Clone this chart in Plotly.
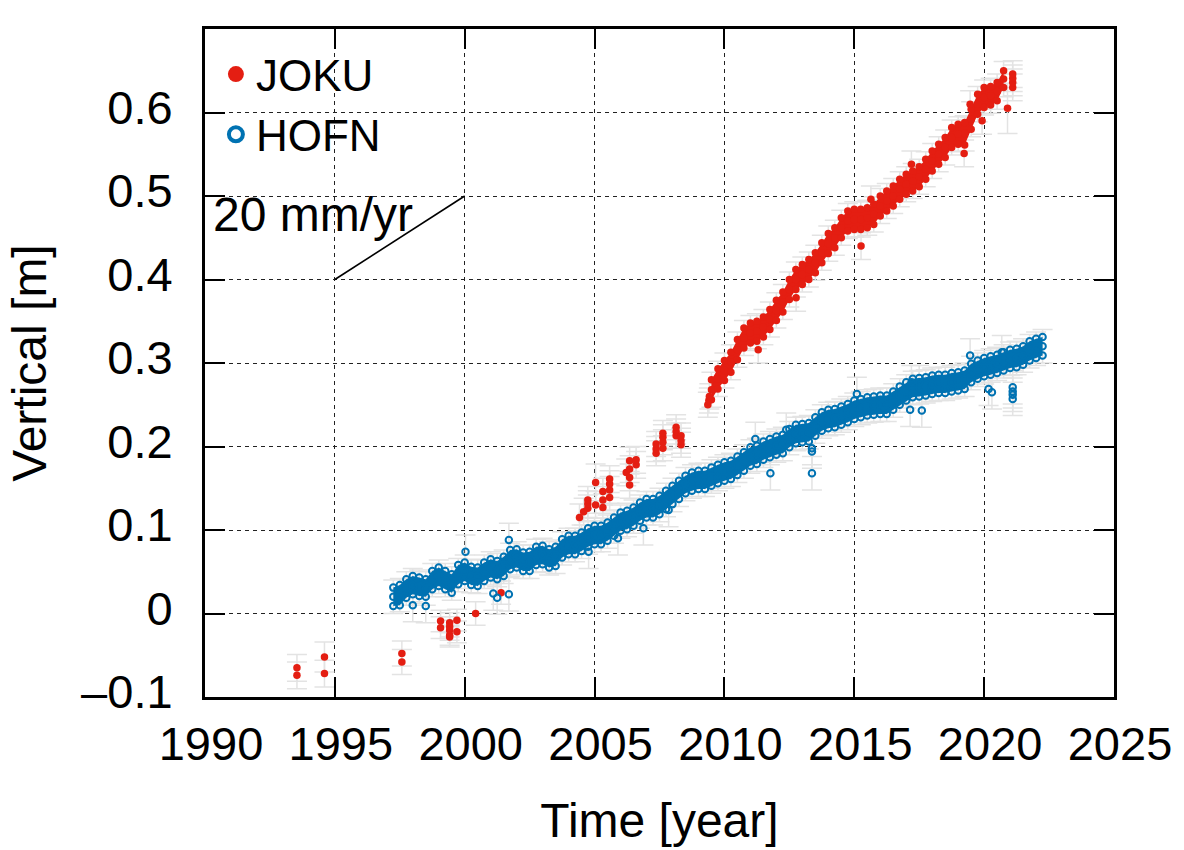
import plotly.graph_objects as go

# ---------------- data ----------------
# HOFN continuous GNSS: quarterly samples, three observation rows (upper, middle, lower part of band)
hofn_t = [1997.25, 1997.5, 1997.75,
          1998.0, 1998.25, 1998.5, 1998.75, 1999.0, 1999.25, 1999.5, 1999.75,
          2000.0, 2000.25, 2000.5, 2000.75, 2001.0, 2001.25, 2001.5, 2001.75,
          2002.0, 2002.25, 2002.5, 2002.75, 2003.0, 2003.25, 2003.5, 2003.75,
          2004.0, 2004.25, 2004.5, 2004.75, 2005.0, 2005.25, 2005.5, 2005.75,
          2006.0, 2006.25, 2006.5, 2006.75, 2007.0, 2007.25, 2007.5, 2007.75,
          2008.0, 2008.25, 2008.5, 2008.75, 2009.0, 2009.25, 2009.5, 2009.75,
          2010.0, 2010.25, 2010.5, 2010.75, 2011.0, 2011.25, 2011.5, 2011.75,
          2012.0, 2012.25, 2012.5, 2012.75, 2013.0, 2013.25, 2013.5, 2013.75,
          2014.0, 2014.25, 2014.5, 2014.75, 2015.0, 2015.25, 2015.5, 2015.75,
          2016.0, 2016.25, 2016.5, 2016.75, 2017.0, 2017.25, 2017.5, 2017.75,
          2018.0, 2018.25, 2018.5, 2018.75, 2019.0, 2019.25, 2019.5, 2019.75,
          2020.0, 2020.25, 2020.5, 2020.75, 2021.0, 2021.25, 2021.5, 2021.75,
          2022.0, 2022.25]
hofn_top = [0.031, 0.034, 0.041,
            0.045, 0.043, 0.041, 0.051, 0.055, 0.051, 0.047, 0.058,
            0.061, 0.056, 0.055, 0.061, 0.065, 0.063, 0.068, 0.076,
            0.077, 0.073, 0.074, 0.080, 0.081, 0.077, 0.080, 0.089,
            0.093, 0.093, 0.097, 0.102, 0.105, 0.105, 0.109, 0.115,
            0.121, 0.123, 0.127, 0.133, 0.137, 0.137, 0.141, 0.147,
            0.153, 0.159, 0.165, 0.169, 0.171, 0.171, 0.175, 0.178,
            0.181, 0.183, 0.188, 0.193, 0.199, 0.201, 0.206, 0.209,
            0.212, 0.214, 0.221, 0.226, 0.227, 0.228, 0.235, 0.241,
            0.244, 0.245, 0.248, 0.251, 0.255, 0.257, 0.259, 0.260,
            0.261, 0.261, 0.266, 0.272, 0.277, 0.281, 0.282, 0.283,
            0.285, 0.286, 0.286, 0.288, 0.289, 0.291, 0.299, 0.303,
            0.306, 0.308, 0.310, 0.313, 0.316, 0.317, 0.320, 0.326,
            0.329, 0.331]
hofn_mid = [0.020, 0.022, 0.030,
            0.034, 0.032, 0.030, 0.040, 0.044, 0.040, 0.036, 0.046,
            0.050, 0.045, 0.044, 0.050, 0.054, 0.052, 0.056, 0.064,
            0.066, 0.062, 0.062, 0.069, 0.070, 0.066, 0.068, 0.078,
            0.082, 0.082, 0.086, 0.091, 0.094, 0.094, 0.098, 0.104,
            0.110, 0.112, 0.116, 0.122, 0.126, 0.126, 0.130, 0.136,
            0.142, 0.148, 0.155, 0.158, 0.160, 0.160, 0.164, 0.167,
            0.170, 0.172, 0.177, 0.182, 0.188, 0.190, 0.195, 0.198,
            0.201, 0.203, 0.210, 0.215, 0.216, 0.217, 0.224, 0.230,
            0.233, 0.234, 0.237, 0.240, 0.244, 0.246, 0.248, 0.249,
            0.250, 0.250, 0.255, 0.261, 0.266, 0.270, 0.271, 0.272,
            0.274, 0.275, 0.275, 0.277, 0.278, 0.280, 0.288, 0.292,
            0.295, 0.297, 0.299, 0.302, 0.305, 0.306, 0.309, 0.314,
            0.317, 0.320]
hofn_bot = [0.009, 0.010, 0.019,
            0.023, 0.021, 0.020, 0.029, 0.033, 0.029, 0.025, 0.035,
            0.039, 0.034, 0.033, 0.039, 0.043, 0.041, 0.045, 0.053,
            0.055, 0.051, 0.051, 0.058, 0.059, 0.055, 0.057, 0.067,
            0.071, 0.071, 0.075, 0.080, 0.083, 0.083, 0.087, 0.093,
            0.099, 0.101, 0.105, 0.111, 0.115, 0.115, 0.119, 0.125,
            0.131, 0.137, 0.144, 0.147, 0.149, 0.149, 0.153, 0.156,
            0.159, 0.161, 0.166, 0.171, 0.177, 0.179, 0.184, 0.187,
            0.190, 0.192, 0.199, 0.204, 0.205, 0.206, 0.213, 0.219,
            0.222, 0.223, 0.226, 0.229, 0.233, 0.235, 0.237, 0.238,
            0.239, 0.239, 0.244, 0.250, 0.255, 0.259, 0.260, 0.261,
            0.263, 0.264, 0.264, 0.266, 0.267, 0.269, 0.277, 0.281,
            0.284, 0.286, 0.288, 0.291, 0.294, 0.295, 0.298, 0.303,
            0.306, 0.309]
# HOFN scattered solutions off the main band
hofn_out_t = [1998.0, 1998.5, 2000.03, 2001.1, 2001.25, 2001.7, 2001.7, 2004.77, 2005.9,
              2006.88, 2007.85, 2011.19, 2011.77, 2012.38, 2013.37, 2013.37, 2013.37,
              2015.1, 2017.15, 2017.2, 2017.5, 2017.6, 2019.46, 2020.17, 2020.3,
              2020.68, 2021.1, 2021.1, 2021.1, 2021.1]
hofn_out_y = [0.010, 0.009, 0.074, 0.024, 0.019, 0.023, 0.088, 0.074, 0.090,
              0.102, 0.124, 0.209, 0.168, 0.220, 0.198, 0.194, 0.168,
              0.263, 0.244, 0.277, 0.277, 0.243, 0.309, 0.269, 0.265,
              0.313, 0.271, 0.266, 0.262, 0.257]
HOFN_SIGMA = 0.02

# JOKU continuous GNSS (from 2009.4): quarterly samples, three rows
joku_t = [2009.5, 2009.75,
          2010.0, 2010.25, 2010.5, 2010.75, 2011.0, 2011.25, 2011.5, 2011.75,
          2012.0, 2012.25, 2012.5, 2012.75, 2013.0, 2013.25, 2013.5, 2013.75,
          2014.0, 2014.25, 2014.5, 2014.75, 2015.0, 2015.25, 2015.5, 2015.75,
          2016.0, 2016.25, 2016.5, 2016.75, 2017.0, 2017.25, 2017.5, 2017.75,
          2018.0, 2018.25, 2018.5, 2018.75, 2019.0, 2019.25, 2019.5, 2019.75,
          2020.0, 2020.25, 2020.5, 2020.75]
joku_top = [0.280, 0.293,
            0.303, 0.313, 0.328, 0.342, 0.348, 0.350, 0.355, 0.364,
            0.375, 0.385, 0.400, 0.412, 0.418, 0.424, 0.432, 0.444,
            0.455, 0.462, 0.474, 0.482, 0.484, 0.484, 0.486, 0.490,
            0.500, 0.506, 0.512, 0.520, 0.526, 0.530, 0.535, 0.544,
            0.554, 0.562, 0.570, 0.582, 0.586, 0.588, 0.604, 0.622,
            0.630, 0.631, 0.636, 0.650]
joku_mid = [0.268, 0.281,
            0.291, 0.301, 0.316, 0.330, 0.336, 0.338, 0.343, 0.352,
            0.363, 0.373, 0.388, 0.400, 0.406, 0.412, 0.420, 0.432,
            0.443, 0.450, 0.462, 0.470, 0.472, 0.472, 0.474, 0.478,
            0.488, 0.494, 0.500, 0.508, 0.514, 0.518, 0.523, 0.532,
            0.542, 0.550, 0.558, 0.570, 0.574, 0.575, 0.592, 0.610,
            0.618, 0.620, 0.625, 0.640]
joku_bot = [0.256, 0.269,
            0.279, 0.289, 0.304, 0.318, 0.324, 0.326, 0.331, 0.340,
            0.351, 0.361, 0.376, 0.388, 0.394, 0.400, 0.408, 0.420,
            0.431, 0.438, 0.450, 0.458, 0.460, 0.460, 0.462, 0.466,
            0.476, 0.482, 0.488, 0.496, 0.502, 0.506, 0.511, 0.520,
            0.530, 0.538, 0.546, 0.558, 0.562, 0.561, 0.580, 0.598,
            0.606, 0.609, 0.614, 0.630]
JOKU_SIGMA = 0.021

# JOKU campaign and isolated solutions, with their own uncertainties
joku_camp_t = [1993.54, 1993.54, 1994.6, 1994.6, 1997.58, 1997.58,
               1999.07, 1999.07, 1999.42, 1999.42, 1999.42, 1999.42, 1999.42, 1999.7, 1999.7,
               2000.42, 2001.4,
               2004.42, 2004.58, 2004.74, 2004.74, 2004.74, 2005.04, 2005.04,
               2005.32, 2005.32, 2005.32, 2005.58, 2005.58, 2005.58, 2005.58,
               2006.22, 2006.35, 2006.35, 2006.35, 2006.35, 2006.6, 2006.6,
               2007.37, 2007.37, 2007.37, 2007.63, 2007.63, 2007.63, 2007.63,
               2008.14, 2008.14, 2008.14, 2008.33, 2008.33, 2008.33,
               2009.36, 2009.4, 2009.42,
               2011.3, 2012.76, 2015.26, 2015.64, 2017.2, 2019.23, 2019.46, 2019.92,
               2020.9, 2021.1, 2021.1, 2021.1, 2021.1]
joku_camp_y = [-0.065, -0.074, -0.052, -0.072, -0.048, -0.058,
               -0.009, -0.017, -0.011, -0.016, -0.020, -0.026, -0.028, -0.008, -0.022,
               0.000, 0.025,
               0.115, 0.122, 0.126, 0.131, 0.136, 0.157, 0.130,
               0.127, 0.136, 0.146, 0.139, 0.148, 0.155, 0.161,
               0.169, 0.154, 0.163, 0.173, 0.183, 0.178, 0.184,
               0.192, 0.197, 0.203, 0.198, 0.205, 0.211, 0.216,
               0.213, 0.218, 0.223, 0.202, 0.207, 0.213,
               0.250, 0.255, 0.260,
               0.316, 0.378, 0.440, 0.496, 0.538, 0.551, 0.610, 0.590,
               0.605, 0.630, 0.636, 0.641, 0.646]
joku_camp_err = [0.016, 0.016, 0.018, 0.016, 0.015, 0.015,
                 0.013, 0.013, 0.012, 0.012, 0.012, 0.012, 0.012, 0.013, 0.013,
                 0.014, 0.014,
                 0.016, 0.016, 0.016, 0.016, 0.016, 0.022, 0.016,
                 0.016, 0.016, 0.016, 0.016, 0.016, 0.016, 0.016,
                 0.016, 0.016, 0.016, 0.016, 0.016, 0.016, 0.016,
                 0.015, 0.015, 0.015, 0.015, 0.015, 0.015, 0.015,
                 0.015, 0.015, 0.015, 0.015, 0.015, 0.015,
                 0.015, 0.015, 0.015,
                 0.016, 0.016, 0.016, 0.016, 0.016, 0.016, 0.016, 0.016,
                 0.030, 0.016, 0.016, 0.016, 0.016]

# reference slope
RATE_MM_PER_YR = 20
RATE_T0 = 1995
RATE_Y0 = 0.4
RATE_SPAN_YR = 5

x_ticks = [1990, 1995, 2000, 2005, 2010, 2015, 2020, 2025]
y_ticks = [-0.1, 0, 0.1, 0.2, 0.3, 0.4, 0.5, 0.6, 0.7]
y_ticktext = ["\u20130.1", "0", "0.1", "0.2", "0.3", "0.4", "0.5", "0.6", "0.7"]

# ---------------- styling ----------------
RED = "#E41E12"
BLUE = "#0072B2"
GREY = "#E3E3E3"
FONT = "Liberation Sans"
TICK_SIZE = 47
TITLE_SIZE = 48

fig = go.Figure()


def err_trace(x, y, err):
    if isinstance(err, list):
        ey = dict(type="data", array=err, visible=True, color=GREY, thickness=1.5, width=10)
    else:
        ey = dict(type="constant", value=err, visible=True, color=GREY, thickness=1.5, width=10)
    return go.Scatter(x=x, y=y, mode="markers", showlegend=False, hoverinfo="skip",
                      marker=dict(size=2, color="rgba(0,0,0,0)"), error_y=ey)


def band(x, top, bot, color):
    # dense daily solutions appear as a solid band between upper and lower rows
    return [go.Scatter(x=x, y=top, mode="lines", line=dict(width=0, color=color),
                       showlegend=False, hoverinfo="skip"),
            go.Scatter(x=x, y=bot, mode="lines", line=dict(width=0, color=color),
                       fill="tonexty", fillcolor=color, showlegend=False, hoverinfo="skip")]


# grey error bars first (beneath all points)
fig.add_trace(err_trace(joku_camp_t, joku_camp_y, joku_camp_err))
fig.add_trace(err_trace(joku_t, joku_mid, JOKU_SIGMA))
fig.add_trace(err_trace(hofn_t, hofn_mid, HOFN_SIGMA))
fig.add_trace(err_trace(hofn_out_t, hofn_out_y, HOFN_SIGMA))

# JOKU points
for tr in band(joku_t, joku_top, joku_bot, RED):
    fig.add_trace(tr)
joku_x = joku_t + joku_t + joku_t + joku_camp_t
joku_y = joku_top + joku_mid + joku_bot + joku_camp_y
fig.add_trace(go.Scatter(x=joku_x, y=joku_y, mode="markers", name="JOKU", showlegend=False,
                         marker=dict(symbol="circle", size=7.5, color=RED)))
# HOFN points
for tr in band(hofn_t, hofn_top, hofn_bot, BLUE):
    fig.add_trace(tr)
hofn_x = hofn_t + hofn_t + hofn_t + hofn_out_t
hofn_y = hofn_top + hofn_mid + hofn_bot + hofn_out_y
fig.add_trace(go.Scatter(x=hofn_x, y=hofn_y, mode="markers", name="HOFN", showlegend=False,
                         marker=dict(symbol="circle-open", size=6.5, color=BLUE,
                                     line=dict(width=2, color=BLUE))))

# legend entries (larger key symbols, as in the reference)
fig.add_trace(go.Scatter(x=[None], y=[None], mode="markers", name="JOKU",
                         marker=dict(symbol="circle", size=16, color=RED)))
fig.add_trace(go.Scatter(x=[None], y=[None], mode="markers", name="HOFN",
                         marker=dict(symbol="circle-open", size=14, color=BLUE,
                                     line=dict(width=4, color=BLUE))))

# 20 mm/yr reference line
fig.add_trace(go.Scatter(x=[RATE_T0, RATE_T0 + RATE_SPAN_YR],
                         y=[RATE_Y0, RATE_Y0 + RATE_MM_PER_YR / 1000 * RATE_SPAN_YR],
                         mode="lines", line=dict(color="black", width=1.6),
                         showlegend=False, hoverinfo="skip"))
fig.add_annotation(x=1990.25, y=0.478, xref="x", yref="y", text=f"{RATE_MM_PER_YR} mm/yr",
                   showarrow=False, xanchor="left", yanchor="middle",
                   font=dict(family=FONT, size=TITLE_SIZE, color="black"))

# white box behind the key (hides the grid there, ticks stay)
fig.add_shape(type="rect", xref="paper", yref="paper", x0=0, x1=0.377, y0=0.822, y1=1,
              fillcolor="white", line=dict(width=0), layer="between")

axis_common = dict(showline=True, linecolor="black", linewidth=3, mirror="ticks",
                   ticks="inside", ticklen=20, tickwidth=2, tickcolor="black",
                   showgrid=True, gridcolor="#222222", gridwidth=1, griddash="4px,4px",
                   zeroline=False, tickfont=dict(family=FONT, size=TICK_SIZE, color="black"))

fig.update_xaxes(range=[1990, 2025], tickvals=x_ticks, ticktext=[str(v) for v in x_ticks],
                 title=dict(text="Time [year]", font=dict(family=FONT, size=TITLE_SIZE, color="black"),
                            standoff=34),
                 ticklabelstandoff=4, ticklabelshift=6, **axis_common)
fig.update_yaxes(range=[-0.1, 0.7], tickvals=y_ticks, ticktext=y_ticktext,
                 title=dict(text="Vertical [m]", font=dict(family=FONT, size=TITLE_SIZE, color="black"),
                            standoff=20),
                 ticklabelstandoff=20, ticklabelshift=-5, **axis_common)

fig.update_layout(
    width=1184, height=850,
    margin=dict(l=205, r=70, t=29, b=153, autoexpand=False),
    paper_bgcolor="white", plot_bgcolor="white",
    font=dict(family=FONT, size=TICK_SIZE, color="black"),
    legend=dict(x=0.012, y=0.985, xanchor="left", yanchor="top", bgcolor="rgba(0,0,0,0)",
                font=dict(family=FONT, size=44, color="black"), itemwidth=30,
                tracegroupgap=0, traceorder="normal"),
    showlegend=True,
)

fig.write_html("out.html")
